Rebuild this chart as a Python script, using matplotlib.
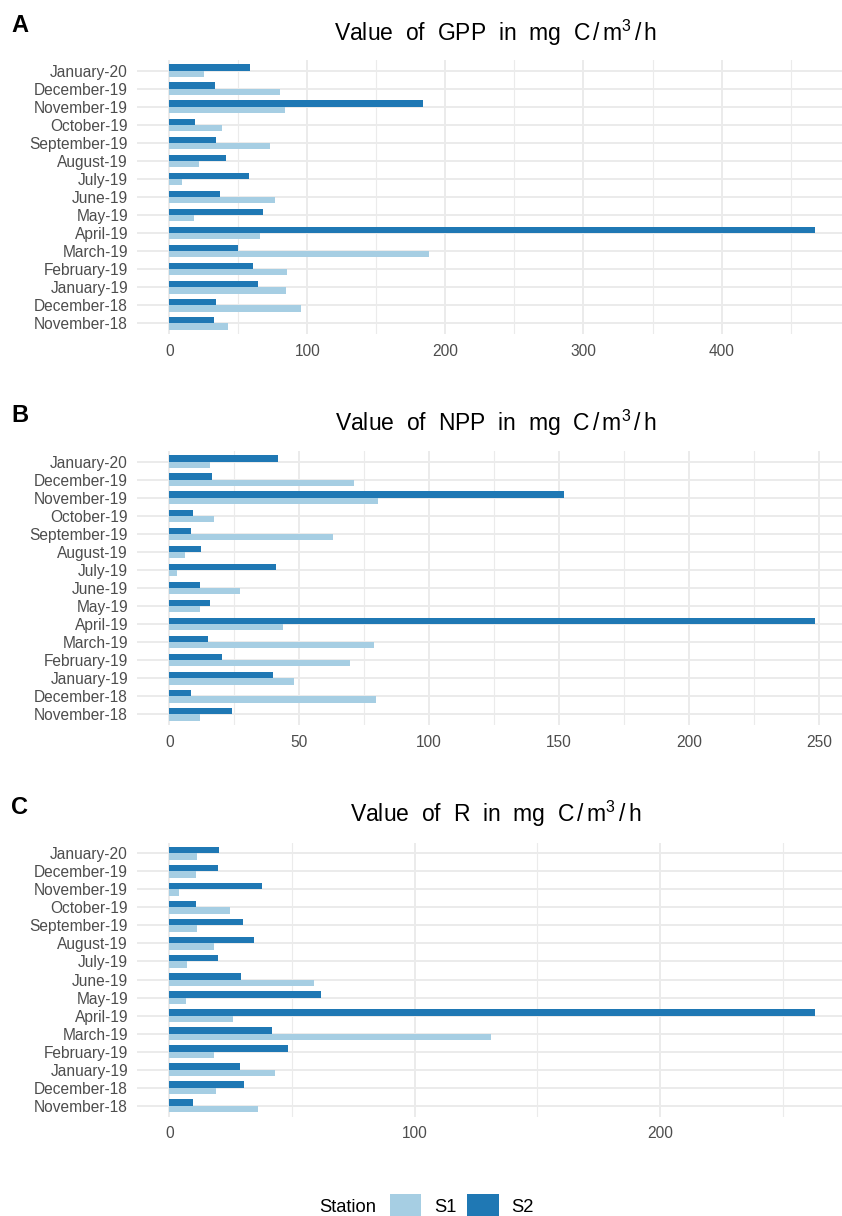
import matplotlib
matplotlib.use("Agg")
import matplotlib.pyplot as plt
from matplotlib.patches import Patch
from matplotlib.ticker import MultipleLocator
import numpy as np

plt.rcParams['font.family'] = ['Liberation Sans', 'DejaVu Sans']
plt.rcParams['mathtext.fontset'] = 'custom'
plt.rcParams['mathtext.rm'] = 'Liberation Sans'
plt.rcParams['mathtext.it'] = 'Liberation Sans'
plt.rcParams['mathtext.default'] = 'regular'

months = ["November-18", "December-18", "January-19", "February-19", "March-19",
          "April-19", "May-19", "June-19", "July-19", "August-19", "September-19",
          "October-19", "November-19", "December-19", "January-20"]

# values listed from November-18 to January-20
gpp_s1 = [42.6, 95.6, 84.3, 85.0, 188.0, 65.6, 17.7, 76.8, 9.2, 21.5, 72.6, 38.0, 84.0, 80.4, 25.2]
gpp_s2 = [32.4, 34.1, 64.2, 60.8, 50.1, 467.5, 67.6, 36.8, 57.9, 41.4, 33.7, 18.4, 184.0, 32.9, 58.8]

npp_s1 = [11.9, 79.5, 48.0, 69.6, 78.7, 43.7, 11.8, 27.4, 2.9, 6.0, 63.0, 17.2, 80.4, 71.0, 15.6]
npp_s2 = [24.1, 8.3, 39.9, 20.1, 14.9, 248.3, 15.6, 12.0, 41.0, 12.2, 8.2, 9.2, 151.9, 16.4, 41.9]

r_s1 = [36.3, 19.0, 43.1, 18.1, 130.9, 26.1, 6.9, 58.8, 7.2, 18.4, 11.3, 24.8, 3.9, 10.9, 11.3]
r_s2 = [9.5, 30.6, 28.8, 48.4, 42.0, 263.0, 61.9, 29.4, 19.7, 34.6, 30.2, 10.9, 37.6, 19.7, 20.1]

unit = r"mg  C$\,/\,$m$^{3}$$\,/\,$h"
titles = ["Value  of  GPP  in  " + unit,
          "Value  of  NPP  in  " + unit,
          "Value  of  R  in  " + unit]
letters = ["A", "B", "C"]
stations = ["S1", "S2"]
colors = {"S1": "#A6CEE3", "S2": "#1F78B4"}

panels = [(gpp_s1, gpp_s2, 100, 50), (npp_s1, npp_s2, 50, 25), (r_s1, r_s2, 100, 50)]

W, H = 842, 1216
fig = plt.figure(figsize=(W / 100, H / 100), dpi=100)

# panel pixel geometry (top, bottom)
geom = [(59.9, 334.1), (450.9, 725.1), (842.5, 1116.5)]
title_y = [33, 423, 814]
letter_y = [26, 416, 807]
left_px, right_px = 137, 847

grid_col = "#EBEBEB"
text_col = "#4D4D4D"

y = np.arange(len(months))
bw = 0.35

for i, ((s1, s2, major, minor), (top, bot)) in enumerate(zip(panels, geom)):
    ax = fig.add_axes([left_px / W, 1 - bot / H, (right_px - left_px) / W, (bot - top) / H])
    ax.barh(y - bw / 2, s1, height=bw, color=colors["S1"], zorder=3)
    ax.barh(y + bw / 2, s2, height=bw, color=colors["S2"], zorder=3)
    mx = max(max(s1), max(s2))
    ax.set_xlim(-0.05 * mx, 1.05 * mx)
    ax.set_ylim(-0.6, len(months) - 0.4)
    ax.set_yticks(y)
    ax.set_yticklabels(months)
    ax.xaxis.set_major_locator(MultipleLocator(major))
    ax.xaxis.set_minor_locator(MultipleLocator(minor))
    for s in ax.spines.values():
        s.set_visible(False)
    ax.tick_params(axis='both', which='both', length=0, labelsize=11.2, colors=text_col)
    ax.tick_params(axis='y', pad=6.5)
    ax.tick_params(axis='x', pad=7)
    ax.grid(True, which='major', axis='both', color=grid_col, linewidth=1.4, zorder=0)
    ax.grid(True, which='minor', axis='x', color=grid_col, linewidth=0.8, zorder=0)
    ax.set_axisbelow(True)
    fig.text(496 / W, 1 - title_y[i] / H, titles[i], ha='center', va='center',
             fontsize=16.5, color='black')
    fig.text(11 / W, 1 - letter_y[i] / H, letters[i], ha='left', va='center',
             fontsize=17, fontweight='bold', color='black')

handles = [Patch(facecolor=colors[s], edgecolor='none', label=s) for s in stations]
fig.text(376 / W, 1 - 1207 / H, "Station", ha='right', va='center', fontsize=13.2, color='black')
fig.legend(handles=handles, loc='center left', bbox_to_anchor=(390 / W, 1 - 1206.5 / H),
           ncol=2, frameon=False, fontsize=13.2, handlelength=1.7, handleheight=1.7,
           handletextpad=0.7, columnspacing=0.6, borderpad=0, borderaxespad=0)

fig.savefig("out.png", dpi=100, facecolor='white')
